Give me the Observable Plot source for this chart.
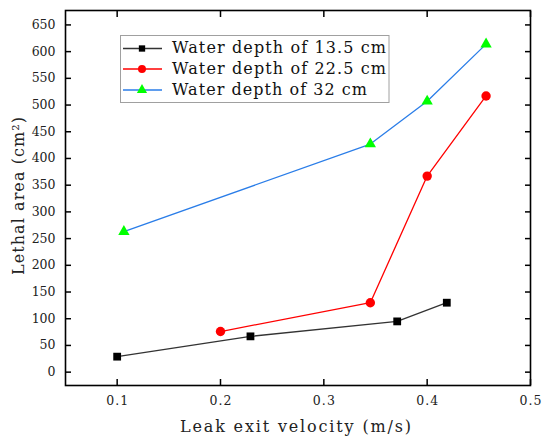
<!DOCTYPE html>
<html><head><meta charset="utf-8">
<script src="https://cdn.jsdelivr.net/npm/d3@7"></script>
<script src="https://cdn.jsdelivr.net/npm/@observablehq/plot@0.6"></script>
<style>
body{margin:0;background:#fff}
#chart{position:relative;width:550px;height:445px}
#chart svg text{font-family:"DejaVu Serif",serif !important}
</style>
</head><body><div id="chart"></div>
<script>
const seriesNames = ["Water depth of 13.5 cm", "Water depth of 22.5 cm", "Water depth of 32 cm"];
const velocity135 = [0.1, 0.229, 0.371, 0.419];
const area135 = [29, 67, 95, 130];
const velocity225 = [0.2, 0.345, 0.4, 0.457];
const area225 = [76, 130, 367, 517];
const velocity32 = [0.1065, 0.345, 0.4, 0.457];
const area32 = [263, 427, 507, 614];
const xTicks = [0.1, 0.2, 0.3, 0.4, 0.5];
const yTicks = [0, 50, 100, 150, 200, 250, 300, 350, 400, 450, 500, 550, 600, 650];
const xLabel = "Leak exit velocity (m/s)";
const yLabel = "Lethal area (cm²)";

const lineColors = ["#333333", "#ff0000", "#2a7de8"];
const markColors = ["#000000", "#ff0000", "#00ff00"];
const symbols = ["square", "circle", "triangle"];
const radii = [4.4, 4.7, 4.2];

const vs = [velocity135, velocity225, velocity32];
const as = [area135, area225, area32];
const rows = [];
seriesNames.forEach((s, i) => vs[i].forEach((v, j) => rows.push({series: s, si: i, v, a: as[i][j]})));

const serif = "DejaVu Serif";
const W = 550, H = 445;
const mL = 65, mR = 20, mT = 10, mB = 60;

const marks = [
  Plot.frame({stroke: "#000", strokeWidth: 1.6}),
  Plot.axisX({anchor: "bottom", ticks: xTicks, tickSize: -6, tickPadding: 17, tickFormat: d => d.toFixed(1), label: null,
    fontSize: 12.5, fill: "#222", stroke: "#000", strokeWidth: 1.5}),
  Plot.axisX({anchor: "top", ticks: xTicks, tickSize: -6, tickFormat: () => "", label: null, stroke: "#000", strokeWidth: 1.5}),
  Plot.axisY({anchor: "left", ticks: yTicks, tickSize: -6, tickPadding: 16, tickFormat: d => String(d), label: null,
    fontSize: 12.5, fill: "#222", stroke: "#000", strokeWidth: 1.5}),
  Plot.axisY({anchor: "right", ticks: yTicks, tickSize: -6, tickFormat: () => "", label: null, stroke: "#000", strokeWidth: 1.5})
];
seriesNames.forEach((s, i) => {
  const d = rows.filter(r => r.si === i);
  marks.push(Plot.line(d, {x: "v", y: "a", stroke: lineColors[i], strokeWidth: 1.3}));
});
seriesNames.forEach((s, i) => {
  const d = rows.filter(r => r.si === i);
  marks.push(Plot.dot(d, {x: "v", y: "a", symbol: () => symbols[i], r: radii[i], fill: markColors[i], stroke: "none"}));
});

const chart = Plot.plot({
  width: W, height: H,
  marginLeft: mL, marginRight: mR, marginTop: mT, marginBottom: mB,
  style: {fontFamily: serif, background: "#fff"},
  x: {domain: [0.05, 0.5]},
  y: {domain: [-25, 677]},
  symbol: {type: "identity"},
  marks
});
document.getElementById("chart").appendChild(chart);

const svg = d3.select(chart);
// stretch x tick labels like the wide CJK font
svg.selectAll("g[aria-label='x-axis tick label'] text").each(function() {
  if (this.textContent) d3.select(this).attr("textLength", 22).attr("lengthAdjust", "spacing");
});

// axis titles
svg.append("text")
  .attr("x", 180).attr("y", 427)
  .attr("text-anchor", "start").attr("dominant-baseline", "middle")
  .attr("font-family", serif).attr("font-size", 16).attr("fill", "#222")
  .attr("textLength", 231).attr("lengthAdjust", "spacing")
  .text(xLabel);
svg.append("text")
  .attr("transform", `translate(19,275) rotate(-90)`)
  .attr("text-anchor", "start").attr("dominant-baseline", "middle")
  .attr("font-family", serif).attr("font-size", 16).attr("fill", "#222")
  .attr("textLength", 158).attr("lengthAdjust", "spacing")
  .text(yLabel);

// legend
const lg = svg.append("g");
lg.append("rect").attr("x", 120.5).attr("y", 35.5).attr("width", 268.5).attr("height", 67)
  .attr("fill", "#fff").attr("stroke", "#a0a0a0").attr("stroke-width", 1);
const rowY = [48.5, 69, 90];
const legSym = [d3.symbolSquare, d3.symbolCircle, d3.symbolTriangle];
const legSize = [40, 50, 45];
const legLen = [214, 214, 195];
seriesNames.forEach((s, i) => {
  lg.append("line").attr("x1", 123).attr("x2", 162).attr("y1", rowY[i]).attr("y2", rowY[i])
    .attr("stroke", lineColors[i]).attr("stroke-width", 1.3);
  lg.append("path").attr("d", d3.symbol(legSym[i], legSize[i])())
    .attr("transform", `translate(142,${rowY[i]})`).attr("fill", markColors[i]);
  lg.append("text").attr("x", 172).attr("y", rowY[i]).attr("dominant-baseline", "middle")
    .attr("text-anchor", "start")
    .attr("font-family", serif).attr("font-size", 16).attr("fill", "#111")
    .attr("textLength", legLen[i]).attr("lengthAdjust", "spacing")
    .text(s);
});
</script>
</body></html>
